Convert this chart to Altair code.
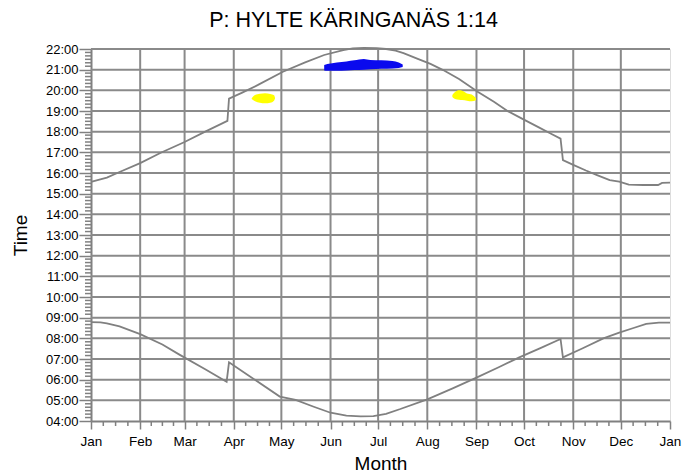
import altair as alt
import pandas as pd

# ---- axis structure ----
month_names = ["Jan", "Feb", "Mar", "Apr", "May", "Jun", "Jul", "Aug", "Sep", "Oct", "Nov", "Dec", "Jan"]
month_starts = [0, 31, 59, 90, 120, 151, 181, 212, 243, 273, 304, 334, 365]
hour_ticks = list(range(4, 23))

# ---- sunset curve (day of year, hours) ----
sunset_day = [0, 10, 18, 31, 44, 59, 72, 86, 87, 95, 105, 121, 135, 147, 159, 165, 172, 180,
              186, 192, 197, 206, 214, 222, 232, 244, 254, 263, 272, 282, 290, 296,
              297.5, 304, 312, 319, 327, 333, 339, 348, 357.5, 360, 365]
sunset_time = [15.57, 15.78, 16.05, 16.48, 16.98, 17.5, 18.0, 18.52, 19.6, 19.88, 20.25, 20.9, 21.35, 21.71, 21.95, 22.03, 22.05, 22.04,
               22.0, 21.92, 21.8, 21.52, 21.28, 20.98, 20.55, 19.92, 19.45, 18.98, 18.62, 18.22, 17.9, 17.66,
               16.62, 16.39, 16.12, 15.9, 15.66, 15.58, 15.44, 15.42, 15.42, 15.52, 15.53]

# ---- sunrise curve (day of year, hours) ----
sunrise_day = [0, 6, 10, 18, 31, 45, 56, 72, 85.5, 87, 100, 119, 129, 140, 151, 161, 170, 178, 186,
               195, 212, 228, 243, 257, 270, 284, 296, 297.5, 310, 323, 333, 342, 350, 358, 365]
sunrise_time = [8.78, 8.77, 8.72, 8.58, 8.2, 7.7, 7.2, 6.5, 5.9, 6.84, 6.17, 5.18, 5.02, 4.7, 4.4, 4.26, 4.22, 4.24, 4.35,
                4.58, 5.05, 5.58, 6.1, 6.6, 7.08, 7.55, 7.97, 7.08, 7.52, 8.0, 8.28, 8.5, 8.7, 8.76, 8.76]

# ---- shadow periods (day, top time, bottom time) ----
blue_day = [147, 149, 155, 161, 166, 172, 176, 183, 190, 194, 196.5]
blue_top = [21.22, 21.27, 21.35, 21.40, 21.45, 21.52, 21.47, 21.45, 21.42, 21.35, 21.25]
blue_bottom = [20.96, 20.95, 20.95, 20.96, 20.98, 21.0, 21.02, 21.04, 21.06, 21.08, 21.13]

yellow1_day = [101.3, 103.4, 106.5, 109.7, 113, 115.4, 116]
yellow1_top = [19.62, 19.77, 19.83, 19.86, 19.82, 19.76, 19.64]
yellow1_bottom = [19.58, 19.47, 19.40, 19.37, 19.40, 19.50, 19.60]

yellow2_day = [227.8, 229.5, 232, 234, 237, 240, 242.7]
yellow2_top = [19.78, 19.92, 20.0, 19.98, 19.85, 19.80, 19.62]
yellow2_bottom = [19.68, 19.58, 19.55, 19.53, 19.50, 19.47, 19.52]

W, H = 579, 372
GRID = "#8a8a8a"
LINE = "#808080"
FONT = "Liberation Sans"

# ---- tables ----
rows = []
for i, (d, t) in enumerate(zip(sunset_day, sunset_time)):
    rows.append({"day": d, "t": t, "series": "sunset", "idx": i})
for i, (d, t) in enumerate(zip(sunrise_day, sunrise_time)):
    rows.append({"day": d, "t": t, "series": "sunrise", "idx": i})
line_df = pd.DataFrame(rows)

blob_rows = []
for name, kind, days, tops, bots in [
    ("b", "blue", blue_day, blue_top, blue_bottom),
    ("y1", "yellow", yellow1_day, yellow1_top, yellow1_bottom),
    ("y2", "yellow", yellow2_day, yellow2_top, yellow2_bottom),
]:
    for d, tp, bt in zip(days, tops, bots):
        blob_rows.append({"day": d, "t": tp, "t2": bt, "blob": name, "kind": kind})
blob_df = pd.DataFrame(blob_rows)

minor_x = []
for a, b in zip(month_starts[:-1], month_starts[1:]):
    for k in (1, 2, 3):
        minor_x.append(a + (b - a) * k / 4)
minor_x_df = pd.DataFrame({"day": minor_x})

minor_y = []
for h in hour_ticks[:-1]:
    for k in range(1, 6):
        minor_y.append(h + k / 6)
minor_y_df = pd.DataFrame({"t": minor_y})

label_x = "['" + "','".join(month_names) + "'][indexof([" + ",".join(str(m) for m in month_starts) + "], datum.value)]"

x_enc = alt.X(
    "day:Q",
    scale=alt.Scale(domain=[0, 365], nice=False, zero=False),
    axis=alt.Axis(
        values=month_starts, labelExpr=label_x, grid=False, labelFlush=False, labelOverlap=False,
        domainColor=LINE, domainWidth=2, tickColor=LINE, tickWidth=1.5, tickSize=8,
        labelFont=FONT, labelFontSize=13.5, labelColor="black", labelPadding=5,
        title="Month", titleFont=FONT, titleFontSize=19, titleFontWeight="normal",
        titleColor="black", titleX=W / 2, titleY=42, titleBaseline="middle", titleAlign="center",
    ),
)
y_enc = alt.Y(
    "t:Q",
    scale=alt.Scale(domain=[4, 22], nice=False, zero=False),
    axis=alt.Axis(
        values=hour_ticks, labelExpr="(datum.value < 10 ? '0' : '') + datum.value + ':00'", grid=False,
        labelFlush=False, labelOverlap=False,
        domainColor=LINE, domainWidth=2, tickColor=LINE, tickWidth=1.5, tickSize=12,
        labelFont=FONT, labelFontSize=13, labelColor="black", labelPadding=1,
        title="Time", titleFont=FONT, titleFontSize=19, titleFontWeight="normal",
        titleColor="black", titleX=-71, titleY=H / 2, titleBaseline="middle", titleAlign="center",
        titleAngle=270,
    ),
)

vgrid = alt.Chart(pd.DataFrame({"day": month_starts[1:12]})).mark_rule(color=GRID, strokeWidth=2).encode(
    x=x_enc, y=alt.value(0), y2=alt.value(H))
hgrid = alt.Chart(pd.DataFrame({"t": hour_ticks[1:]})).mark_rule(color=GRID, strokeWidth=2).encode(
    y=y_enc, x=alt.value(0), x2=alt.value(W))
xminor = alt.Chart(minor_x_df).mark_rule(color=LINE, strokeWidth=1.5).encode(
    x=x_enc, y=alt.value(H), y2=alt.value(H + 5))
yminor = alt.Chart(minor_y_df).mark_rule(color=LINE, strokeWidth=1.5).encode(
    y=y_enc, x=alt.value(-6), x2=alt.value(0))

lines = alt.Chart(line_df).mark_line(color=LINE, strokeWidth=1.8).encode(
    x=x_enc, y=y_enc, detail="series:N", order="idx:Q")

blobs = alt.Chart(blob_df).mark_area(opacity=1, interpolate="monotone").encode(
    x=x_enc, y=y_enc, y2="t2:Q", detail="blob:N",
    color=alt.Color("kind:N", scale=alt.Scale(domain=["blue", "yellow"], range=["#0a0aee", "#ffff00"]), legend=None),
)

chart = alt.layer(vgrid, hgrid, xminor, yminor, blobs, lines).properties(
    width=W, height=H,
    title=alt.TitleParams("P: HYLTE KÄRINGANÄS 1:14", font=FONT, fontSize=21.5, fontWeight="normal",
                          color="black", anchor="middle", dx=-27, offset=12),
    padding={"left": 83, "top": 41, "right": 21, "bottom": 54},
    autosize=alt.AutoSizeParams(type="none"),
).configure_view(strokeWidth=0).configure(background="white")

chart.save("out.html", embed_options={"renderer": "svg", "actions": False})
